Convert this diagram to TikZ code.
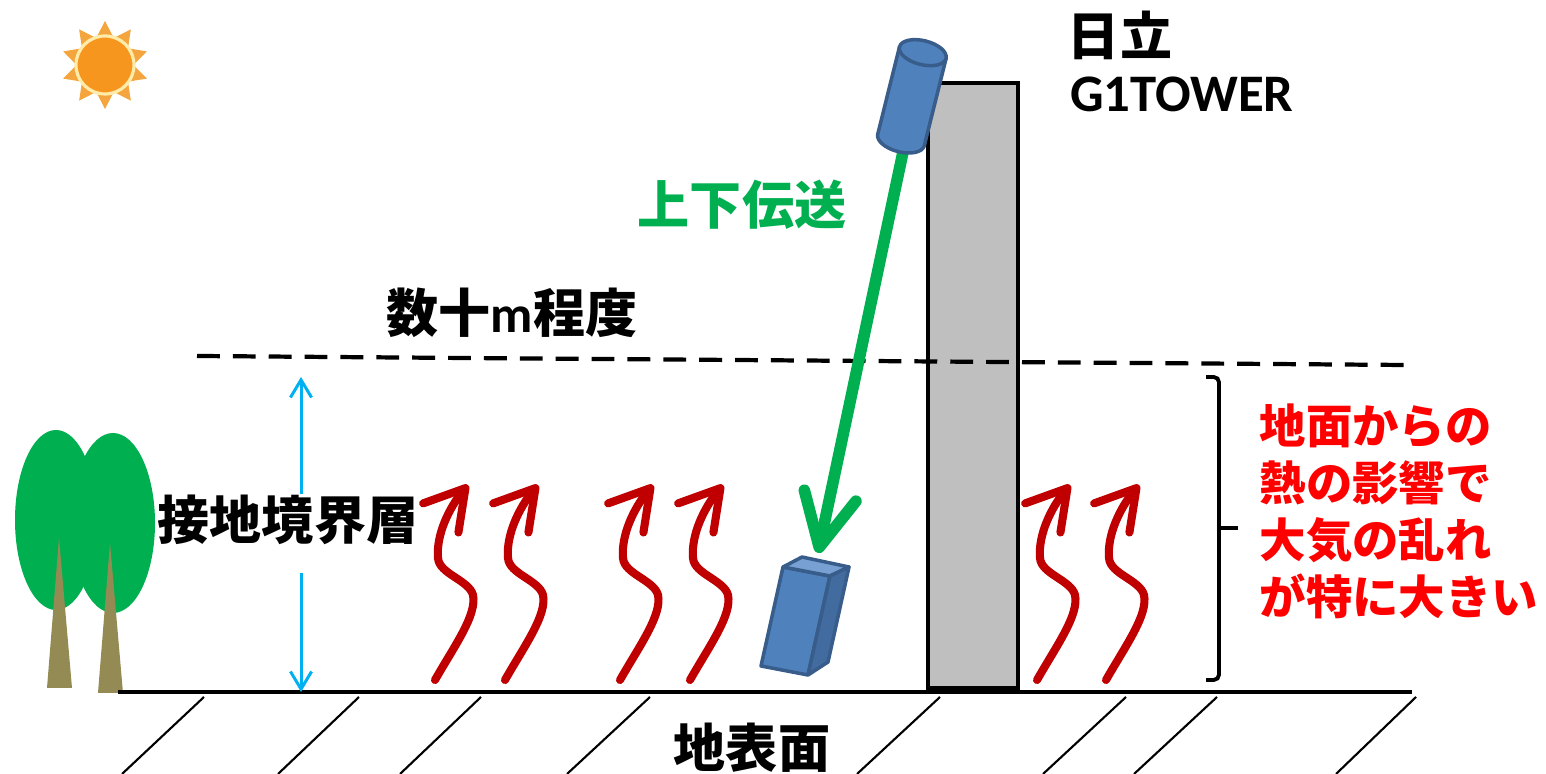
\documentclass[tikz,border=0pt]{standalone}
\usepackage{fontspec}
\setmainfont{Noto Sans CJK JP}
\newfontfamily\latinfont{Carlito}
\usetikzlibrary{arrows.meta}
\usetikzlibrary{positioning}
\definecolor{tgreen}{RGB}{0,176,80}
\definecolor{tblue}{RGB}{79,129,189}
\definecolor{tblueedge}{RGB}{56,93,138}
\definecolor{tbluetop}{RGB}{120,160,210}
\definecolor{tblueside}{RGB}{66,108,160}
\definecolor{heatred}{RGB}{192,0,0}
\definecolor{skyblue}{RGB}{0,176,240}
\definecolor{trunkbrown}{RGB}{148,138,84}
\definecolor{sunorange}{RGB}{247,150,30}
\definecolor{sunray}{RGB}{245,165,62}
\definecolor{sunring}{RGB}{255,236,170}
\definecolor{towergray}{RGB}{191,191,191}
\tikzset{bigtext/.style = {font=\fontsize{14.8pt}{17pt}\selectfont\bfseries, inner sep=0pt},
         redtext/.style = {font=\fontsize{13.2pt}{16.2pt}\selectfont\bfseries, text=red,
                           align=left, inner sep=0pt},
         heatline/.style = {heatred, line width=2.3pt, line cap=round,
                            -{Straight Barb[round, length=11pt, width=13pt]}},
         heat/.pic = {\draw [heatline] (0, 0) .. controls (20, -35) and (42, -65) .. (38, -85)
                        .. controls (34, -100) and (4, -106) .. (3, -122)
                        .. controls (1, -145) and (14, -172) .. (33, -195);},
         uplink/.style = {tgreen, line width=3.3pt, line cap=round,
                          -{Straight Barb[round, length=15pt, width=15pt]}},
         span/.style = {skyblue, line width=0.85pt, -{Straight Barb[length=5pt, width=6pt]}},
         instrument/.style = {draw=tblueedge, line width=1pt, line join=round},
         level/.style = {line width=1.2pt, dash pattern=on 6.5pt off 3.7pt},
         brace/.style = {line width=1.1pt, rounded corners=1.5pt}}

\begin{document}
\begin{tikzpicture}[x=0.01cm, y=-0.01cm]
    \useasboundingbox (0, 0) rectangle (1546, 774);

    % sun
    \begin{scope}[shift={(105, 65)}]
      \foreach \a in {90, 126, ..., 414}
        \fill [sunray] (\a:44) -- (\a+15:30) -- (\a-15:30) -- cycle;
      \filldraw [fill=sunorange, draw=sunring, line width=0.9pt] (0, 0) circle (29);
    \end{scope}

    % trees
    \fill [tgreen] (56, 520) ellipse (41 and 90);
    \fill [tgreen] (113, 523) ellipse (42 and 90);
    \fill [trunkbrown] (47, 688) -- (59, 538) -- (72, 688) -- cycle;
    \fill [trunkbrown] (98, 693) -- (110, 543) -- (123, 693) -- cycle;

    % ground
    \draw [line width=1.4pt] (118, 692) -- (1412, 692);
    \foreach \t/\b in {204/122, 359/278, 481/400, 650/567, 940/857, 1126/1043, 1217/1134, 1416/1336}
      \draw [line width=0.6pt] (\t, 697) -- (\b, 774);

    % tower
    \filldraw [fill=towergray, line width=1.4pt] (928, 83) rectangle (1018, 688);

    \draw [level] (197, 356) -- (1405, 365);

    \foreach \x in {435, 505, 620, 690, 1037, 1106}
      \pic at (\x, 680) {heat};

    \coordinate (sensor) at (903, 152);
    \coordinate (station) at (818, 553);
    \draw [uplink] (sensor) -- (station);

    % sensor on the tower
    \begin{scope}[shift={(901, 140)}, rotate=-14]
      \path [instrument, fill=tblue] (-24, -90) -- (-24, 0) arc (180:0:24 and 12) -- (24, -90) -- cycle;
      \path [instrument, fill=tblue] (0, -90) ellipse (24 and 12);
    \end{scope}

    % ground station
    \path [instrument, fill=tblue] (783, 567) -- (830, 576) -- (808, 675) -- (761, 666) -- cycle;
    \path [instrument, fill=tbluetop] (783, 567) -- (802, 557) -- (849, 567) -- (830, 576) -- cycle;
    \path [instrument, fill=tblueside] (830, 576) -- (849, 567) -- (828, 662) -- (808, 675) -- cycle;

    \draw [brace] (1206, 377) -- (1219, 377) -- (1219, 680) -- (1206, 680);
    \draw [brace] (1219, 528) -- (1238, 528);

    \node [bigtext] (height) at (512, 313) {数十{\latinfont m}程度};
    \node [bigtext] (hitachi) at (1120, 35) {日立};
    \node [bigtext, font=\fontsize{15pt}{17pt}\selectfont\bfseries\latinfont] (towerid) at (1182, 94) {G1TOWER};
    \node [bigtext, text=tgreen] (transfer) at (742, 205) {上下伝送};
    \node [bigtext] (surface) at (752, 748) {地表面};
    \node [redtext, anchor=west] (effect) at (1259, 511) {地面からの\\熱の影響で\\大気の乱れ\\が特に大きい};

    \node [bigtext] (layer) at (288, 520) {接地境界層};
    \coordinate (top) at (301, 377);
    \coordinate (base) at (301, 692);
    \draw [span] (layer.north -| top) -- (top);
    \draw [span] ([yshift=-0.27cm]layer.south -| base) -- (base);
\end{tikzpicture}
\end{document}
